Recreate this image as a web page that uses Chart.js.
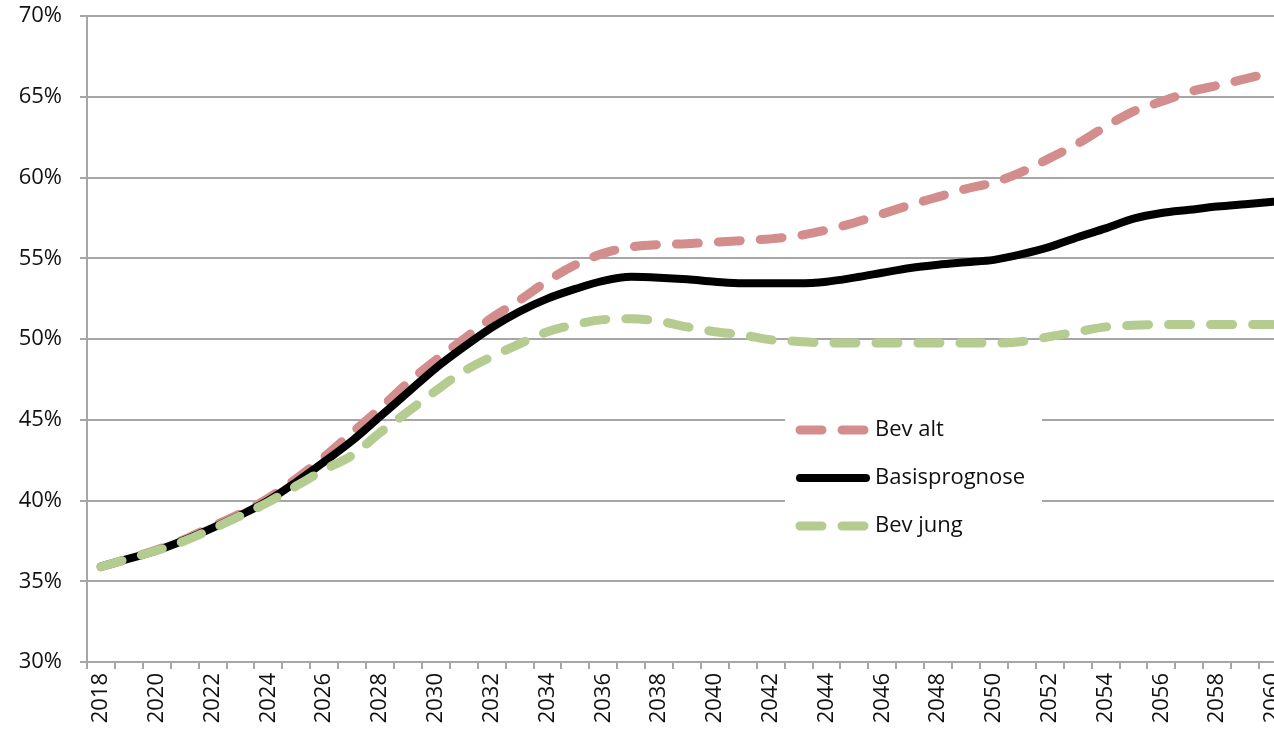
<!DOCTYPE html>
<html>
<head>
<meta charset="utf-8">
<script src="https://cdn.jsdelivr.net/npm/chart.js@4.4.1/dist/chart.umd.min.js"></script>
<style>
  html, body { margin: 0; padding: 0; background: #fff; overflow: hidden; }
  #wrap { width: 1287px; height: 734px; }
</style>
</head>
<body>
<div id="wrap"><canvas id="myChart" width="1287" height="734"></canvas></div>
<script>
const years = [];
for (let y = 2018; y <= 2060; y++) years.push(String(y));

const bevAlt = [35.9, 36.4, 36.95, 37.6, 38.4, 39.2, 40.15, 41.35, 42.7, 44.2,
    45.7, 47.3, 48.7, 50.0, 51.3, 52.4, 53.6, 54.6, 55.3, 55.7,
    55.85, 55.9, 56.0, 56.1, 56.2, 56.4, 56.75, 57.2, 57.75, 58.3,
    58.8, 59.3, 59.7, 60.35, 61.2, 62.1, 63.15, 64.1, 64.7, 65.3,
    65.7, 66.1, 66.55];

const basis = [35.9, 36.4, 36.9, 37.55, 38.3, 39.1, 40.0, 41.15, 42.4, 43.7,
    45.2, 46.7, 48.2, 49.5, 50.7, 51.7, 52.5, 53.1, 53.6, 53.85,
    53.8, 53.7, 53.55, 53.45, 53.45, 53.45, 53.55, 53.8, 54.1, 54.4,
    54.6, 54.75, 54.9, 55.25, 55.7, 56.3, 56.85, 57.45, 57.8, 58.0,
    58.2, 58.35, 58.5];

const bevJung = [35.9, 36.4, 36.9, 37.5, 38.25, 39.05, 39.9, 40.9, 41.9, 42.8,
    44.2, 45.5, 46.8, 48.0, 48.9, 49.7, 50.45, 50.9, 51.2, 51.25,
    51.1, 50.75, 50.45, 50.25, 49.95, 49.85, 49.75, 49.75, 49.75, 49.75,
    49.75, 49.75, 49.75, 49.85, 50.15, 50.45, 50.75, 50.85, 50.9, 50.9,
    50.9, 50.9, 50.9];

const seriesLabels = ['Bev alt', 'Basisprognose', 'Bev jung'];

const FONT = '"Open Sans", "DejaVu Sans", sans-serif';
const gridGray = '#a6a6a6';

// legend drawn inside the plot, white box over the gridlines
const insideLegend = {
    id: 'insideLegend',
    beforeDatasetsDraw(chart) {
        const ctx = chart.ctx;
        const box = { x: 785, y: 404, w: 257, h: 146 };
        ctx.save();
        ctx.fillStyle = '#fff';
        ctx.fillRect(box.x, box.y, box.w, box.h);
        ctx.restore();
    },
    afterDatasetsDraw(chart) {
        const ctx = chart.ctx;
        const rows = [430, 478, 526];
        chart.data.datasets.forEach((ds, i) => {
            const y = rows[i];
            ctx.save();
            ctx.strokeStyle = ds.borderColor;
            ctx.lineWidth = ds.borderWidth;
            ctx.lineCap = 'round';
            ctx.setLineDash(ds.borderDash || []);
            ctx.beginPath();
            ctx.moveTo(800, y);
            ctx.lineTo(866, y);
            ctx.stroke();
            ctx.setLineDash([]);
            ctx.fillStyle = '#111';
            ctx.font = '22px ' + FONT;
            ctx.textBaseline = 'middle';
            ctx.fillText(ds.label, 875, y);
            ctx.restore();
        });
    }
};

const ctx = document.getElementById('myChart').getContext('2d');
const myChart = new Chart(ctx, {
    type: 'line',
    data: {
        labels: years,
        datasets: [{
            label: seriesLabels[0],
            data: bevAlt,
            borderColor: '#d38d8d',
            borderWidth: 9,
            borderDash: [22, 20],
            borderCapStyle: 'round',
            order: 3
        }, {
            label: seriesLabels[1],
            data: basis,
            borderColor: '#000000',
            borderWidth: 8,
            borderCapStyle: 'round',
            order: 2
        }, {
            label: seriesLabels[2],
            data: bevJung,
            borderColor: '#b5cc91',
            borderWidth: 9,
            borderDash: [22, 20],
            borderCapStyle: 'round',
            order: 1
        }]
    },
    options: {
        responsive: false,
        animation: false,
        cubicInterpolationMode: 'monotone',
        elements: { point: { radius: 0 }, line: { fill: false, borderJoinStyle: 'round' } },
        layout: { padding: { top: 16, right: 0, left: 0, bottom: 0 } },
        plugins: {
            legend: { display: false },
            tooltip: { enabled: false }
        },
        scales: {
            x: {
                offset: true,
                grid: {
                    offset: true,
                    drawOnChartArea: false,
                    drawTicks: true,
                    tickLength: 7,
                    color: gridGray,
                    lineWidth: 2
                },
                border: { color: gridGray, width: 2 },
                ticks: {
                    autoSkip: false,
                    maxRotation: 90,
                    minRotation: 90,
                    padding: 4,
                    color: '#111',
                    font: { family: FONT, size: 22 },
                    callback: function (val, idx) {
                        return idx % 2 === 0 ? this.getLabelForValue(val) : '';
                    }
                },
                afterFit(scale) {
                    scale.height = 72;
                    scale.paddingLeft = 0;
                    scale.paddingRight = 0;
                }
            },
            y: {
                min: 30,
                max: 70,
                grid: {
                    color: gridGray,
                    lineWidth: 2,
                    tickLength: 7
                },
                border: { color: gridGray, width: 2 },
                ticks: {
                    stepSize: 5,
                    padding: 18,
                    color: '#111',
                    font: { family: FONT, size: 22 },
                    callback: v => v + '%'
                },
                afterFit(scale) {
                    scale.width = 87;
                    scale.paddingTop = 0;
                    scale.paddingBottom = 0;
                }
            }
        }
    },
    plugins: [insideLegend]
});
</script>
</body>
</html>
